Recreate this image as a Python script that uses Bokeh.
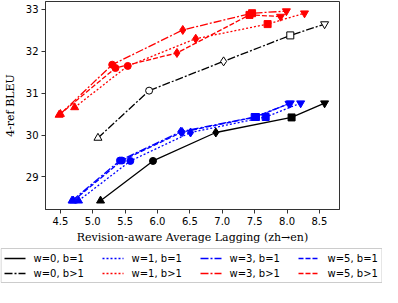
from bokeh.plotting import figure
from bokeh.models import FixedTicker, Range1d
from bokeh.core.properties import value
from bokeh.embed import file_html
from bokeh.resources import INLINE

# ---- data ----
w0_b1_x = [5.12, 5.93, 6.90, 8.07, 8.58]
w0_b1_y = [28.43, 29.38, 30.06, 30.42, 30.76]
w0_bg_x = [5.08, 5.87, 7.02, 8.05, 8.58]
w0_bg_y = [29.93, 31.06, 31.76, 32.38, 32.65]

w1_b1_x = [4.78, 5.58, 6.51, 7.67, 8.21]
w1_b1_y = [28.43, 29.38, 30.06, 30.43, 30.76]
w3_b1_x = [4.68, 5.42, 6.36, 7.50, 8.05]
w3_b1_y = [28.43, 29.39, 30.08, 30.43, 30.76]
w5_b1_x = [4.70, 5.45, 6.38, 7.52, 8.03]
w5_b1_y = [28.43, 29.39, 30.07, 30.43, 30.75]

w1_bg_x = [4.72, 5.54, 6.59, 7.70, 8.27]
w1_bg_y = [30.66, 31.65, 32.30, 32.65, 32.91]
w3_bg_x = [4.50, 5.30, 6.39, 7.46, 7.99]
w3_bg_y = [30.50, 31.68, 32.51, 32.91, 32.96]
w5_bg_x = [4.48, 5.35, 6.30, 7.42, 7.90]
w5_bg_y = [30.48, 31.60, 31.96, 32.87, 32.83]

markers = ["triangle", "circle", "diamond", "square", "inverted_triangle"]
x_ticks = [4.5, 5.0, 5.5, 6.0, 6.5, 7.0, 7.5, 8.0, 8.5]
y_ticks = [29, 30, 31, 32, 33]

DASHDOT = "8 2 2 2"
DOTTED = "2 2"
DASHED = "5 2"

series = [
    ("w=0, b=1", w0_b1_x, w0_b1_y, "black", None, True),
    ("w=0, b>1", w0_bg_x, w0_bg_y, "black", DASHDOT, False),
    ("w=1, b=1", w1_b1_x, w1_b1_y, "blue", DOTTED, True),
    ("w=1, b>1", w1_bg_x, w1_bg_y, "red", DOTTED, True),
    ("w=3, b=1", w3_b1_x, w3_b1_y, "blue", DASHDOT, True),
    ("w=3, b>1", w3_bg_x, w3_bg_y, "red", DASHDOT, True),
    ("w=5, b=1", w5_b1_x, w5_b1_y, "blue", DASHED, True),
    ("w=5, b>1", w5_bg_x, w5_bg_y, "red", DASHED, True),
]

W = 382
p = figure(width=W, height=246, output_backend="svg", toolbar_location=None,
           x_range=Range1d(4.27, 8.81), y_range=Range1d(28.22, 33.19),
           min_border_left=42, min_border_right=43, min_border_top=1,
           min_border_bottom=36)

p.xgrid.visible = False
p.ygrid.visible = False
p.outline_line_color = "#333333"
p.outline_line_width = 1

for label, xs, ys, color, dash, filled in series:
    kw = dict(line_color=color, line_width=1.3)
    if dash:
        kw["line_dash"] = dash
    p.line(xs, ys, **kw)
    for xi, yi, m in zip(xs, ys, markers):
        size = 7 if m in ("circle", "square") else 8
        if m == "diamond":
            size = 9
        p.scatter([xi], [yi], marker=m, size=size,
                  fill_color=color if filled else "white",
                  line_color=color, line_width=1)

p.xaxis.ticker = FixedTicker(ticks=x_ticks)
p.yaxis.ticker = FixedTicker(ticks=y_ticks)
p.xaxis.major_label_overrides = {t: f"{t:.1f}" for t in x_ticks}
for ax in (p.xaxis[0], p.yaxis[0]):
    ax.axis_line_color = "#333333"
    ax.major_tick_line_color = "#333333"
    ax.major_tick_out = 4
    ax.major_tick_in = 0
    ax.minor_tick_line_color = None
    ax.major_label_text_font = "DejaVu Sans"
    ax.major_label_text_font_size = "10px"
    ax.major_label_text_color = "black"
    ax.axis_label_text_font = "DejaVu Serif"
    ax.axis_label_text_font_size = "11px"
    ax.axis_label_text_font_style = "normal"
    ax.axis_label_text_color = "black"
    ax.major_label_standoff = 3
p.xaxis.axis_label = "Revision-aware Average Lagging (zh→en)"
p.yaxis.axis_label = "4-ref BLEU"
p.xaxis.axis_label_standoff = 3
p.yaxis.axis_label_standoff = 6

# ---- legend strip (separate root, drawn by hand, 4 columns x 2 rows) ----
H2 = 37
q = figure(width=W, height=H2, output_backend="svg", toolbar_location=None,
           x_axis_type=None, y_axis_type=None,
           x_range=Range1d(0, W), y_range=Range1d(H2, 0),
           min_border_left=0, min_border_right=0, min_border_top=0,
           min_border_bottom=0)
q.outline_line_color = None
q.xgrid.visible = False
q.ygrid.visible = False

q.quad(left=[0.5], right=[W - 0.5], top=[2], bottom=[H2 - 1],
       fill_color="white", line_color="#cccccc", line_width=1)

col_pitch = 98
row_pitch = 15
order = [0, 2, 4, 6, 1, 3, 5, 7]   # top row b=1, bottom row b>1
for k, idx in enumerate(order):
    label, xs, ys, color, dash, filled = series[idx]
    c, r = k % 4, k // 4
    x0 = 4 + c * col_pitch
    y0 = 12 + r * row_pitch
    kw = dict(line_color=color, line_width=1.5)
    if dash:
        kw["line_dash"] = dash
    q.line([x0, x0 + 21], [y0, y0], **kw)
    q.text([x0 + 29], [y0], text=[label], text_baseline="middle",
           text_align="left", text_font=value("DejaVu Sans"),
           text_font_size="10px", text_color="black")

open("out.html", "w").write(file_html([p, q], INLINE))
